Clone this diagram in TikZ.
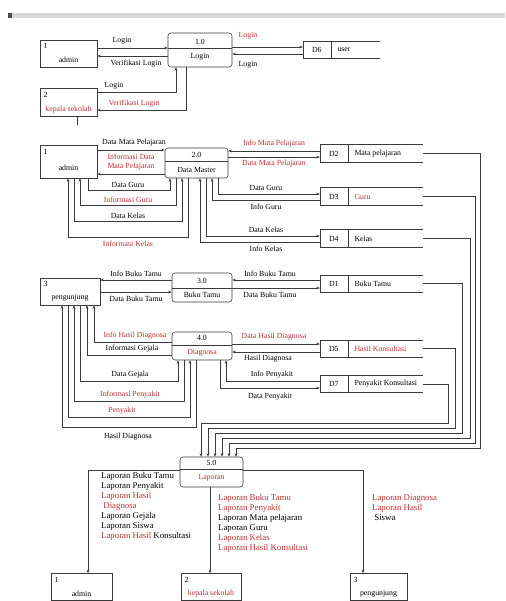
\documentclass[tikz,border=0pt]{standalone}
\usepackage{fontspec}
\setmainfont{Liberation Serif}
\usetikzlibrary{arrows.meta,calc}
\definecolor{redt}{HTML}{C03030}
\definecolor{ln}{HTML}{3A3A3A}
\newcommand\lblfont{\fontsize{7.8}{8.4}\selectfont}
\newcommand\lstfont{\fontsize{8.8}{10}\selectfont}
\newcommand\dstore[6]{% name, center, width, id, label, label style
  \node[stor, minimum width=#3] (#1) at (#2) {};
  \draw[sline] (#1.north east) -- (#1.north west) -- (#1.south west) -- (#1.south east);
  \draw[sline] ($(#1.north west)+(28,0)$) -- ($(#1.south west)+(28,0)$);
  \node[lbl] (#1id) at ($(#1.west)+(14,0)$) {#4};
  \node[#6, anchor=west] (#1tx) at ($(#1.west)+(34,0)$) {#5};
}
\begin{document}
\begin{tikzpicture}[x=1pt,y=-1pt,
  ent/.style={draw=ln, line width=0.6pt, inner sep=0pt},
  proc/.style={draw=ln, line width=0.6pt, rounded corners=3pt, inner sep=0pt},
  stor/.style={inner sep=0pt, minimum height=17pt},
  sline/.style={draw=ln, line width=0.6pt},
  flow/.style={draw=ln, line width=0.5pt, -{Stealth[length=3.5pt,width=2.8pt]}},
  lbl/.style={font=\lblfont, inner sep=0.5pt, text=black},
  rlbl/.style={lbl, text=redt},
  lst/.style={font=\lstfont, inner sep=0pt, align=left, anchor=north west}]
\useasboundingbox (0,0) rectangle (505,601);
\fill[white] (0,0) rectangle (505,601);
% top bar
\fill[black!15] (8,13) rectangle (505,18);
\fill[black!70] (8,13) rectangle (12,18);

% ================= section 1 : login
\node[ent, minimum width=57pt, minimum height=27pt] (adm1) at (68.5,53.5) {};
\node[lbl, anchor=west] (adm1n) at (43,46) {1};
\node[lbl] (adm1t) at (68.5,60) {admin};
\node[ent, minimum width=57pt, minimum height=28pt] (kep1) at (68.5,102) {};
\node[lbl, anchor=west] (kep1n) at (43,95) {2};
\node[rlbl] (kep1t) at (68.5,110) {kepala sekolah};
\draw[sline] (kep1.south -| 77,0) -- (77,125);

\node[proc, minimum width=64pt, minimum height=34pt] (p1) at (200,50) {};
\draw[sline] (p1.west |- 0,48) -- (p1.east |- 0,48);
\node[lbl] (p1n) at (200,41.5) {1.0};
\node[lbl] (p1t) at (200,57) {Login};

\dstore{us}{341.5,50}{77pt}{D6}{user}{lbl}

\draw[flow] (adm1.east |- 0,48) -- (p1.west |- 0,48);
\node[lbl] (f1) at (122,41) {Login};
\draw[flow] (p1.west |- 0,56) -- (adm1.east |- 0,56);
\node[lbl] (f2) at (136,63.5) {Verifikasi Login};
\draw[flow] (p1.east |- 0,47) -- (us.west |- 0,47);
\node[rlbl] (f3) at (248,36) {Login};
\draw[flow] (us.west |- 0,54) -- (p1.east |- 0,54);
\node[lbl] (f4) at (248,65) {Login};
\draw[flow] (kep1.east |- 0,92) -- (176,92) -- (p1.south -| 176,0);
\node[lbl] (f5) at (114,86) {Login};
\draw[flow] (p1.south -| 186,0) -- (186,110) -- (kep1.east |- 0,110);
\node[rlbl] (f6) at (134,103.5) {Verifikasi Login};

% ================= section 2 : data master
\node[ent, minimum width=57pt, minimum height=33pt] (adm2) at (68.5,161.5) {};
\node[lbl, anchor=west] (adm2n) at (43,152) {1};
\node[lbl] (adm2t) at (68.5,168) {admin};
\node[proc, minimum width=63pt, minimum height=30pt] (p2) at (196.5,163) {};
\draw[sline] (p2.west |- 0,161) -- (p2.east |- 0,161);
\node[lbl] (p2n) at (196.5,154.5) {2.0};
\node[lbl] (p2t) at (196.5,169.5) {Data Master};

\dstore{sMP}{371.5,153.5}{103pt}{D2}{Mata pelajaran}{lbl}
\dstore{sGr}{371.5,196.5}{103pt}{D3}{Guru}{rlbl}
\dstore{sKl}{371.5,238.5}{103pt}{D4}{Kelas}{lbl}

\draw[flow] (adm2.east |- 0,150) -- (p2.west |- 0,150);
\node[lbl] (l0) at (134,143) {Data Mata Pelajaran};
\draw[flow] (p2.west |- 0,174) -- (adm2.east |- 0,174);
\node[rlbl, align=center] (l0b) at (131,162) {Informasi Data\\Mata Pelajaran};
\draw[flow] (adm2.south -| 88,0) -- (88,190) -- (170,190) -- (p2.south -| 170,0);
\node[lbl] (l1) at (128,184.5) {Data Guru};
\draw[flow] (p2.south -| 176,0) -- (176,205) -- (80,205) -- (adm2.south -| 80,0);
\node[rlbl] (l2) at (128,199.5) {Informasi Guru};
\draw[flow] (adm2.south -| 74,0) -- (74,221) -- (182,221) -- (p2.south -| 182,0);
\node[lbl] (l3) at (128,215.5) {Data Kelas};
\draw[flow] (p2.south -| 188,0) -- (188,237) -- (68,237) -- (adm2.south -| 68,0);
\node[rlbl] (l4) at (128,244) {Informasi Kelas};

\draw[flow] (sMP.west |- 0,151) -- (p2.east |- 0,151);
\node[rlbl] (r1) at (274,144) {Info Mata Pelajaran};
\draw[flow] (p2.east |- 0,157) -- (sMP.west |- 0,157);
\node[rlbl] (r2) at (274,164) {Data Mata Pelajaran};
\draw[flow] (p2.south -| 218,0) -- (218,194) -- (sGr.west |- 0,194);
\node[lbl] (r3) at (266,188) {Data Guru};
\draw[flow] (sGr.west |- 0,200) -- (212,200) -- (p2.south -| 212,0);
\node[lbl] (r4) at (266,207) {Info Guru};
\draw[flow] (p2.south -| 206,0) -- (206,236) -- (sKl.west |- 0,236);
\node[lbl] (r5) at (266,230) {Data Kelas};
\draw[flow] (sKl.west |- 0,242) -- (200,242) -- (p2.south -| 200,0);
\node[lbl] (r6) at (266,249) {Info Kelas};

% ================= section 3 : buku tamu
\node[ent, minimum width=60pt, minimum height=27pt] (peng) at (70,291.5) {};
\node[lbl, anchor=west] (pengn) at (43,284) {3};
\node[lbl] (pengt) at (70,298) {pengunjung};
\node[proc, minimum width=60pt, minimum height=29pt] (p3) at (202,287.5) {};
\draw[sline] (p3.west |- 0,288) -- (p3.east |- 0,288);
\node[lbl] (p3n) at (202,280.5) {3.0};
\node[lbl] (p3t) at (202,295) {Buku Tamu};
\dstore{sBT}{371.5,283.5}{103pt}{D1}{Buku Tamu}{lbl}

\draw[flow] (p3.west |- 0,280) -- (peng.east |- 0,280);
\node[lbl] (t1) at (136,273.5) {Info Buku Tamu};
\draw[flow] (peng.east |- 0,292) -- (p3.west |- 0,292);
\node[lbl] (t2) at (136,299) {Data Buku Tamu};
\draw[flow] (sBT.west |- 0,280) -- (p3.east |- 0,280);
\node[lbl] (t3) at (270,273.5) {Info Buku Tamu};
\draw[flow] (p3.east |- 0,288) -- (sBT.west |- 0,288);
\node[lbl] (t4) at (270,295) {Data Buku Tamu};

% ================= section 4 : diagnosa
\node[proc, minimum width=60pt, minimum height=28pt] (p4) at (202,346) {};
\draw[sline] (p4.west |- 0,345) -- (p4.east |- 0,345);
\node[lbl] (p4n) at (202,338) {4.0};
\node[rlbl] (p4t) at (202,352.5) {Diagnosa};
\dstore{sHK}{371.5,348.5}{103pt}{D5}{Hasil Konsultasi}{rlbl}
\dstore{sPy}{371.5,384}{103pt}{D7}{Penyakit Konsultasi}{lbl}

\draw[flow] (p4.west |- 0,342) -- (94,342) -- (peng.south -| 94,0);
\node[rlbl] (q1l) at (135,335.5) {Info Hasil Diagnosa};
\draw[flow] (p4.west |- 0,355) -- (87,355) -- (peng.south -| 87,0);
\node[lbl] (q2l) at (132,348.5) {Informasi Gejala};
\draw[flow] (peng.south -| 80,0) -- (80,381) -- (178,381) -- (p4.south -| 178,0);
\node[lbl] (q3l) at (130,375) {Data Gejala};
\draw[flow] (p4.south -| 184,0) -- (184,401) -- (74,401) -- (peng.south -| 74,0);
\node[rlbl] (q4l) at (130,395) {Informasi Penyakit};
\draw[flow] (peng.south -| 68,0) -- (68,417) -- (190,417) -- (p4.south -| 190,0);
\node[rlbl] (q5l) at (122,411) {Penyakit};
\draw[flow] (p4.south -| 196,0) -- (196,427) -- (62,427) -- (peng.south -| 62,0);
\node[lbl] (q6l) at (128,436.5) {Hasil Diagnosa};

\draw[flow] (p4.east |- 0,344) -- (sHK.west |- 0,344);
\node[rlbl] (q1r) at (274,337) {Data Hasil Diagnosa};
\draw[flow] (sHK.west |- 0,352) -- (p4.east |- 0,352);
\node[lbl] (q2r) at (268,359) {Hasil Diagnosa};
\draw[flow] (sPy.west |- 0,381) -- (226,381) -- (p4.south -| 226,0);
\node[lbl] (q3r) at (272,375) {Info Penyakit};
\draw[flow] (p4.south -| 220,0) -- (220,388) -- (sPy.west |- 0,388);
\node[lbl] (q4r) at (270,396.5) {Data Penyakit};

% ================= section 5 : laporan
\node[proc, minimum width=63pt, minimum height=30pt] (p5) at (211.5,472) {};
\draw[sline] (p5.west |- 0,469) -- (p5.east |- 0,469);
\node[lbl] (p5n) at (211.5,462.5) {5.0};
\node[rlbl] (p5t) at (211.5,478) {Laporan};

\draw[flow] (sMP.east) -- (480,153.5) -- (480,448) -- (236,448) -- (p5.north -| 236,0);
\draw[flow] (sGr.east) -- (475,196.5) -- (475,443) -- (229,443) -- (p5.north -| 229,0);
\draw[flow] (sKl.east) -- (470,238.5) -- (470,438) -- (222,438) -- (p5.north -| 222,0);
\draw[flow] (sBT.east) -- (462,283.5) -- (462,433) -- (215,433) -- (p5.north -| 215,0);
\draw[flow] (sHK.east) -- (455,348.5) -- (455,428) -- (208,428) -- (p5.north -| 208,0);
\draw[flow] (sPy.east) -- (448,384) -- (448,423) -- (201,423) -- (p5.north -| 201,0);

\node[ent, minimum width=61pt, minimum height=27pt] (admB) at (81.5,587) {};
\node[lbl, anchor=west] (admBn) at (54,580) {1};
\node[lbl] (admBt) at (81.5,594) {admin};
\node[ent, minimum width=60pt, minimum height=27pt] (kepB) at (211,587) {};
\node[lbl, anchor=west] (kepBn) at (184,580) {2};
\node[rlbl] (kepBt) at (211,594) {kepala sekolah};
\node[ent, minimum width=57pt, minimum height=27pt] (pengB) at (378.5,587) {};
\node[lbl, anchor=west] (pengBn) at (353,580) {3};
\node[lbl] (pengBt) at (378.5,594) {pengunjung};

\draw[flow] (p5.west |- 0,470) -- (88,470) -- (admB.north -| 88,0);
\draw[flow] (p5.south -| 210,0) -- (kepB.north -| 210,0);
\draw[flow] (p5.east |- 0,470) -- (363,470) -- (pengB.north -| 363,0);

\node[lst] (lstA) at (101,472) {Laporan Buku Tamu\\Laporan Penyakit\\\textcolor{redt}{Laporan Hasil}\\\textcolor{redt}{\ Diagnosa}\\Laporan Gejala\\Laporan Siswa\\\textcolor{redt}{Laporan Hasil} Konsultasi};
\node[lst] (lstB) at (218,494) {\textcolor{redt}{Laporan Buku Tamu}\\\textcolor{redt}{Laporan Penyakit}\\Laporan Mata pelajaran\\Laporan Guru\\\textcolor{redt}{Laporan Kelas}\\\textcolor{redt}{Laporan Hasil Konsultasi}};
\node[lst] (lstC) at (372,494) {\textcolor{redt}{Laporan Diagnosa}\\\textcolor{redt}{Laporan Hasil}\\\ Siswa};
\end{tikzpicture}
\end{document}
